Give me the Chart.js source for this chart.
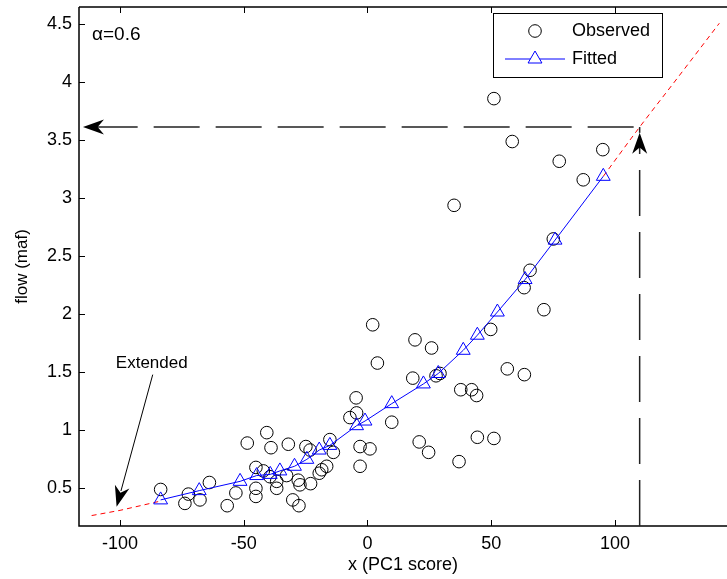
<!DOCTYPE html>
<html>
<head>
<meta charset="utf-8">
<script src="https://cdn.jsdelivr.net/npm/chart.js@4/dist/chart.umd.min.js"></script>
<style>
  body { margin: 0; background: #fff; }
  canvas { display: block; }
</style>
</head>
<body>
<canvas id="flowChart" width="727" height="579"></canvas>
<script>
// observed flows vs PC1 score
const obsX = [-83.6, -72.4, -73.8, -67.7, -63.9, -56.7, -53.2, -48.6, -40.7, -39.0,
              -32.0, -45.1, -45.1, -45.1, -42.1, -39.4, -36.7, -36.7, -32.7, -28.0,
              -27.3, -23.0, -30.2, -27.7, -24.9, -23.2, -19.5, -18.5, -16.5, -15.2,
              -13.8, -4.6, -7.1, -4.4, -3.0, 1.0, -3.0, 2.1, 19.2, 25.9,
              4.0, 18.3, 27.7, 29.3, 37.7, 42.1, 44.1, 9.8, 20.9, 24.7,
              37.0, 44.4, 51.1, 49.8, 56.5, 63.4, 63.3, 65.7, 71.3, 75.1,
              35.0, 87.2, 95.1, 77.5, 58.5, 51.1];
const obsY = [0.49, 0.45, 0.37, 0.40, 0.55, 0.35, 0.46, 0.89, 0.98, 0.85,
              0.88, 0.68, 0.50, 0.43, 0.65, 0.60, 0.56, 0.50, 0.61, 0.57,
              0.53, 0.54, 0.40, 0.35, 0.86, 0.83, 0.63, 0.66, 0.69, 0.92,
              0.81, 1.28, 1.11, 1.15, 0.86, 0.84, 0.69, 1.91, 1.78, 1.71,
              1.58, 1.45, 1.47, 1.49, 1.35, 1.35, 1.30, 1.07, 0.90, 0.81,
              0.73, 0.94, 0.93, 1.87, 1.53, 1.48, 2.23, 2.38, 2.04, 2.65,
              2.94, 3.16, 3.42, 3.32, 3.49, 3.86];

// fitted values
const fitX = [-83.6, -68.0, -51.5, -44.8, -39.3, -35.4, -29.5, -24.5, -19.5, -15.2,
              -4.4, -1.0, 9.8, 22.6, 28.6, 38.7, 44.4, 52.5, 63.7, 75.8, 95.3];
const fitY = [0.40, 0.48, 0.56, 0.61, 0.62, 0.65, 0.69, 0.75, 0.83, 0.87,
              1.04, 1.08, 1.23, 1.40, 1.49, 1.69, 1.82, 2.02, 2.30, 2.64, 3.19];

// extended curve, below and above the fitted range
const extLowX = [-111.5, -100, -83.6];
const extLowY = [0.265, 0.31, 0.39];
const extHighX = [95.3, 110, 125, 142.2];
const extHighY = [3.19, 3.615, 4.03, 4.51];

const xTicks = [-100, -50, 0, 50, 100];
const yTicks = [0.5, 1, 1.5, 2, 2.5, 3, 3.5, 4, 4.5];

const alphaLabel = 'α=0.6';
const xProj = 110;      // extrapolated score
const yProj = 3.615;    // flow

const FONT = '"Liberation Sans", Arial, sans-serif';

function pairs(xs, ys) {
    return xs.map((x, i) => ({ x: x, y: ys[i] }));
}

function noPadding() {
    return { left: 0, right: 0, top: 0, bottom: 0 };
}

function arrowHead(ctx, tx, ty, fx, fy) {
    // filled arrowhead with notch, tip at (tx,ty), pointing away from (fx,fy)
    const ang = Math.atan2(ty - fy, tx - fx);
    const L = 21, W = 7.5;
    ctx.save();
    ctx.translate(tx, ty);
    ctx.rotate(ang);
    ctx.beginPath();
    ctx.moveTo(0, 0);
    ctx.lineTo(-L, -W);
    ctx.lineTo(-L * 0.7, 0);
    ctx.lineTo(-L, W);
    ctx.closePath();
    ctx.fillStyle = '#000';
    ctx.fill();
    ctx.restore();
}

const frameAndNotes = {
    id: 'frameAndNotes',
    afterDatasetsDraw(chart) {
        const ctx = chart.ctx;
        const area = chart.chartArea;
        const xs = chart.scales.x, ys = chart.scales.y;

        ctx.save();
        // axes box + inner ticks
        ctx.strokeStyle = '#000';
        ctx.lineWidth = 1.5;
        ctx.beginPath();
        ctx.moveTo(area.left, area.top);
        ctx.lineTo(area.right, area.top);
        ctx.moveTo(area.left, area.top);
        ctx.lineTo(area.left, area.bottom);
        ctx.lineTo(area.right, area.bottom);
        ctx.stroke();
        ctx.lineWidth = 1;
        ctx.beginPath();
        xTicks.forEach(v => {
            const px = Math.round(xs.getPixelForValue(v)) + 0.5;
            ctx.moveTo(px, area.bottom);
            ctx.lineTo(px, area.bottom - 6);
            ctx.moveTo(px, area.top);
            ctx.lineTo(px, area.top + 6);
        });
        yTicks.forEach(v => {
            const py = Math.round(ys.getPixelForValue(v)) + 0.5;
            ctx.moveTo(area.left, py);
            ctx.lineTo(area.left + 6, py);
        });
        ctx.stroke();

        // projection lines
        const px = xs.getPixelForValue(xProj);
        const py = ys.getPixelForValue(yProj);
        const tipX = xs.getPixelForValue(-115);
        const tipY = ys.getPixelForValue(3.565);
        ctx.strokeStyle = '#222';
        ctx.lineWidth = 1.5;
        ctx.setLineDash([46, 16]);
        ctx.beginPath();
        ctx.moveTo(px - 6, py);
        ctx.lineTo(tipX + 14, py);
        ctx.moveTo(px, area.bottom);
        ctx.lineTo(px, tipY + 14);
        ctx.stroke();
        ctx.setLineDash([]);
        ctx.beginPath();
        ctx.moveTo(px, tipY);
        ctx.lineTo(px, py);
        ctx.stroke();
        arrowHead(ctx, tipX, py, px, py);
        arrowHead(ctx, px, tipY, px, area.bottom);

        // "Extended" note
        const ex1 = xs.getPixelForValue(-86.8), ey1 = ys.getPixelForValue(1.48);
        const ex2 = xs.getPixelForValue(-101.4), ey2 = ys.getPixelForValue(0.34);
        ctx.strokeStyle = '#000';
        ctx.lineWidth = 1;
        ctx.beginPath();
        ctx.moveTo(ex1, ey1);
        ctx.lineTo(ex2 + (ex1 - ex2) * 0.12, ey2 + (ey1 - ey2) * 0.12);
        ctx.stroke();
        arrowHead(ctx, ex2, ey2, ex1, ey1);

        ctx.fillStyle = '#000';
        ctx.font = '17px ' + FONT;
        ctx.textAlign = 'center';
        ctx.textBaseline = 'middle';
        ctx.fillText('Extended', xs.getPixelForValue(-87.2), ys.getPixelForValue(1.58));

        ctx.font = '19px ' + FONT;
        ctx.textAlign = 'left';
        ctx.fillText(alphaLabel, area.left + 13, area.top + 28);

        // legend
        const lx = 493, ly = 13, lw = 169, lh = 64;
        ctx.fillStyle = '#fff';
        ctx.fillRect(lx, ly, lw, lh);
        ctx.strokeStyle = '#000';
        ctx.lineWidth = 1;
        ctx.strokeRect(lx + 0.5, ly + 0.5, lw, lh);
        const ds = chart.data.datasets;
        ctx.beginPath();
        ctx.arc(lx + 42, ly + 18, 6.3, 0, Math.PI * 2);
        ctx.stroke();
        ctx.strokeStyle = '#0000ff';
        ctx.beginPath();
        ctx.moveTo(lx + 12, ly + 46);
        ctx.lineTo(lx + 72, ly + 46);
        ctx.stroke();
        Chart.helpers.drawPoint(ctx, { pointStyle: 'triangle', radius: 8, borderWidth: 1 }, lx + 42, ly + 46);
        ctx.fillStyle = '#000';
        ctx.font = '18px ' + FONT;
        ctx.textAlign = 'left';
        ctx.fillText(ds[0].label, lx + 79, ly + 18);
        ctx.fillText(ds[1].label, lx + 79, ly + 46);
        ctx.restore();
    }
};

const ctx = document.getElementById('flowChart').getContext('2d');

new Chart(ctx, {
    type: 'scatter',
    data: {
        datasets: [
            {
                label: 'Observed',
                data: pairs(obsX, obsY),
                pointStyle: 'circle',
                pointRadius: 6.3,
                pointBorderColor: '#000',
                pointBackgroundColor: 'rgba(0,0,0,0)',
                pointBorderWidth: 1,
                showLine: false,
                order: 3
            },
            {
                label: 'Fitted',
                data: pairs(fitX, fitY),
                showLine: true,
                borderColor: '#0000ff',
                borderWidth: 1,
                pointStyle: 'triangle',
                pointRadius: 8,
                pointBorderColor: '#0000ff',
                pointBackgroundColor: 'rgba(0,0,0,0)',
                pointBorderWidth: 1,
                order: 1
            },
            {
                label: 'ext-low',
                data: pairs(extLowX, extLowY),
                showLine: true,
                borderColor: '#ff0000',
                borderWidth: 1,
                borderDash: [5, 4],
                pointRadius: 0,
                order: 2
            },
            {
                label: 'ext-high',
                data: pairs(extHighX, extHighY),
                showLine: true,
                borderColor: '#ff0000',
                borderWidth: 1,
                borderDash: [5, 4],
                pointRadius: 0,
                cubicInterpolationMode: 'monotone',
                order: 2
            }
        ]
    },
    options: {
        responsive: false,
        animation: false,
        devicePixelRatio: 1,
        layout: { autoPadding: false, padding: { top: 7, right: 0, left: 0, bottom: 0 } },
        plugins: {
            legend: { display: false },
            tooltip: { enabled: false }
        },
        scales: {
            x: {
                type: 'linear',
                position: 'bottom',
                min: -116.6,
                max: 145.3,
                afterBuildTicks: s => { s.ticks = xTicks.map(v => ({ value: v })); },
                afterFit: s => { s.height = 53; s.getPadding = noPadding; },
                grid: { display: false, drawTicks: false },
                border: { display: false },
                ticks: {
                    color: '#000',
                    padding: 7,
                    maxRotation: 0,
                    callback: v => String(v),
                    font: { family: FONT, size: 18 }
                },
                title: {
                    display: true,
                    text: 'x (PC1 score)',
                    color: '#000',
                    font: { family: FONT, size: 18 },
                    padding: { top: 0, bottom: 3 }
                }
            },
            y: {
                type: 'linear',
                min: 0.175,
                max: 4.65,
                afterBuildTicks: s => { s.ticks = yTicks.map(v => ({ value: v })); },
                afterFit: s => { s.width = 79; s.getPadding = noPadding; },
                grid: { display: false, drawTicks: false },
                border: { display: false },
                ticks: {
                    color: '#000',
                    padding: 7,
                    callback: v => String(v),
                    font: { family: FONT, size: 18 }
                },
                title: {
                    display: true,
                    text: 'flow (maf)',
                    color: '#000',
                    font: { family: FONT, size: 17 },
                    padding: { top: 12, bottom: 0 }
                }
            }
        }
    },
    plugins: [frameAndNotes]
});
</script>
</body>
</html>
